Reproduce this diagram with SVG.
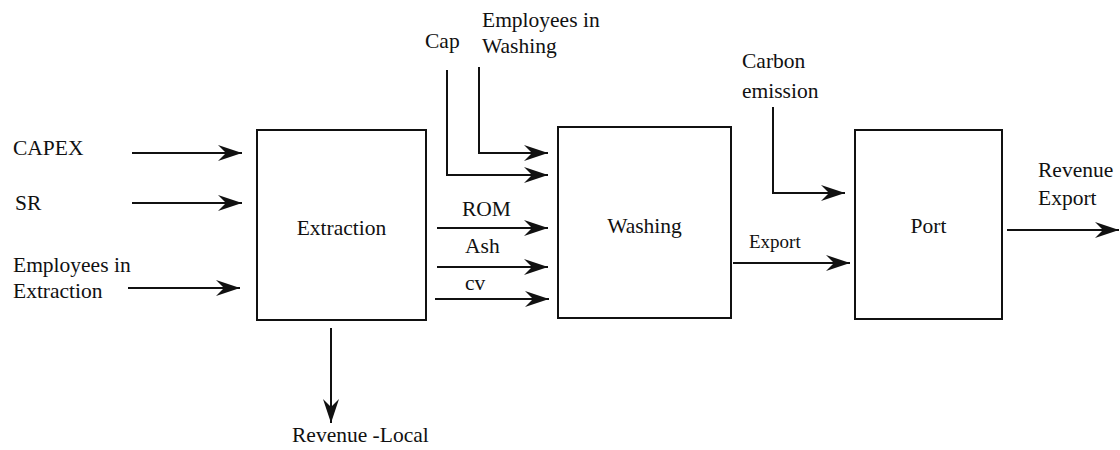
<svg xmlns="http://www.w3.org/2000/svg" width="1120" height="450" viewBox="0 0 1120 450">
<style>
text{font-family:"Liberation Serif","Times New Roman",serif;font-size:21.5px;fill:#111}
.box{fill:#fff;stroke:#111;stroke-width:2}
.c{fill:none;stroke:#111;stroke-width:2}
.m{text-anchor:middle}
</style>
<defs>
<marker id="ah" markerUnits="userSpaceOnUse" markerWidth="30" markerHeight="20" viewBox="-26 -10 28 20" refX="0" refY="0" orient="auto">
<path d="M0,0 L-24,-8 L-16,0 L-24,8 Z" fill="#111"/>
</marker>
</defs>
<rect width="1120" height="450" fill="#fff"/>
<g id="extraction">
<rect class="box" x="257" y="130" width="169" height="190"/>
<text class="m" x="341.5" y="235">Extraction</text>
</g>
<g id="washing">
<rect class="box" x="558" y="127" width="173" height="191"/>
<text class="m" x="644.5" y="233">Washing</text>
</g>
<g id="port">
<rect class="box" x="855" y="130" width="147" height="189"/>
<text class="m" x="928.5" y="233">Port</text>
</g>
<g id="labels">
<text x="13" y="155">CAPEX</text>
<text x="15" y="210">SR</text>
<text x="13" y="272">Employees in</text>
<text x="13" y="298">Extraction</text>
<text x="425" y="48">Cap</text>
<text x="482" y="27">Employees in</text>
<text x="482" y="53">Washing</text>
<text x="462" y="216">ROM</text>
<text x="465" y="253">Ash</text>
<text x="465" y="290">cv</text>
<text x="742" y="68">Carbon</text>
<text x="742" y="98">emission</text>
<text x="749" y="248" style="font-size:19px">Export</text>
<text x="1038" y="177">Revenue</text>
<text x="1038" y="205">Export</text>
<text x="292" y="442">Revenue -Local</text>
</g>
<g id="connectors">
<path class="c" marker-end="url(#ah)" d="M132,153 H242"/>
<path class="c" marker-end="url(#ah)" d="M132,203 H242"/>
<path class="c" marker-end="url(#ah)" d="M128,288 H240"/>
<path class="c" marker-end="url(#ah)" d="M447,70 V175 H548"/>
<path class="c" marker-end="url(#ah)" d="M479,67 V153 H548"/>
<path class="c" marker-end="url(#ah)" d="M437,228 H548"/>
<path class="c" marker-end="url(#ah)" d="M437,267 H548"/>
<path class="c" marker-end="url(#ah)" d="M435,299 H549"/>
<path class="c" marker-end="url(#ah)" d="M773,107 V193 H845"/>
<path class="c" marker-end="url(#ah)" d="M733,263 H850"/>
<path class="c" marker-end="url(#ah)" d="M1007,230 H1119"/>
<path class="c" marker-end="url(#ah)" d="M331,328 V423"/>
</g>
</svg>
